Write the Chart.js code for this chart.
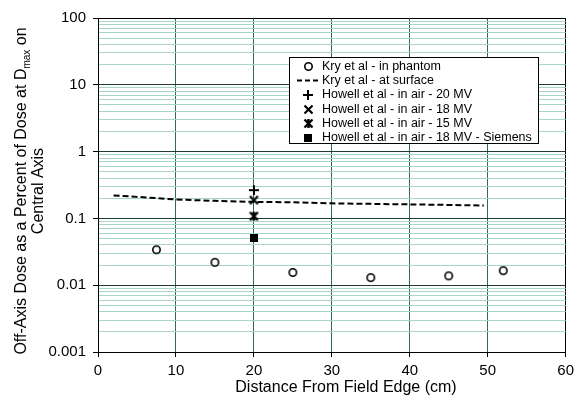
<!DOCTYPE html>
<html lang="en">
<head>
<meta charset="UTF-8">
<title>Off-Axis Dose vs Distance From Field Edge</title>
<script src="https://cdn.jsdelivr.net/npm/chart.js@4/dist/chart.umd.min.js"></script>
<style>
  html, body { margin: 0; padding: 0; background: #fff; }
</style>
</head>
<body>
<canvas id="doseChart" width="579" height="401"></canvas>
<script>
// Kry et al - in phantom
const phantomDist = [7.5, 15, 25, 35, 45, 52];
const phantomDose = [0.034, 0.022, 0.0155, 0.013, 0.0138, 0.0165];
// Kry et al - at surface
const surfaceDist = [2, 5, 10, 15, 20, 25, 30, 35, 40, 45, 49.5];
const surfaceDose = [0.221, 0.21, 0.192, 0.183, 0.177, 0.174, 0.168, 0.165, 0.162, 0.159, 0.156];
// Howell et al - in air (all at 20 cm)
const howellDist = [20];
const howell20MV = [0.265];
const howell18MV = [0.188];
const howell15MV = [0.108];
const howell18Siemens = [0.0514];

const xTicks = [0, 10, 20, 30, 40, 50, 60];
const yDecades = [0.001, 0.01, 0.1, 1, 10, 100];

const FONT = "'Liberation Sans', Arial, sans-serif";

const pts = (xs, ys) => ys.map((y, i) => ({ x: xs[i], y: y }));

// marker images, reused in the legend
function makeMarker(w, draw) {
    const c = document.createElement('canvas');
    c.width = w; c.height = w;
    const g = c.getContext('2d');
    g.strokeStyle = '#000'; g.fillStyle = '#000';
    draw(g, w);
    return c;
}
const mCircle = makeMarker(11, (g) => {
    g.lineWidth = 1.6;
    g.beginPath(); g.arc(5.5, 5.5, 3.7, 0, Math.PI * 2);
    g.fillStyle = '#fff'; g.fill(); g.stroke();
});
const mPlus = makeMarker(12, (g) => {
    g.lineWidth = 2;
    g.beginPath();
    g.moveTo(6, 1); g.lineTo(6, 11);
    g.moveTo(1, 6); g.lineTo(11, 6);
    g.stroke();
});
const mCross = makeMarker(11, (g) => {
    g.lineWidth = 2.2;
    g.beginPath();
    g.moveTo(1.5, 1.5); g.lineTo(9.5, 9.5);
    g.moveTo(9.5, 1.5); g.lineTo(1.5, 9.5);
    g.stroke();
});
const mStar = makeMarker(11, (g) => {
    g.lineWidth = 2.4;
    g.beginPath();
    g.moveTo(1.5, 1.5); g.lineTo(9.5, 9.5);
    g.moveTo(9.5, 1.5); g.lineTo(1.5, 9.5);
    g.moveTo(5.5, 1); g.lineTo(5.5, 10);
    g.stroke();
});
const mSquare = makeMarker(8, (g) => { g.fillRect(0, 0, 8, 8); });

const isDecade = (v) => Math.abs(Math.log10(v) - Math.round(Math.log10(v))) < 1e-6;

const yGridTicks = [];
for (let e = -3; e <= 1; e++) {
    for (let m = 1; m <= 9; m++) yGridTicks.push(Number((m * Math.pow(10, e)).toPrecision(6)));
}
yGridTicks.push(100);

const legendItems = [
    { label: 'Kry et al - in phantom', img: mCircle },
    { label: 'Kry et al - at surface', dash: true },
    { label: 'Howell et al - in air - 20 MV', img: mPlus },
    { label: 'Howell et al - in air - 18 MV', img: mCross },
    { label: 'Howell et al - in air - 15 MV', img: mStar },
    { label: 'Howell et al - in air - 18 MV - Siemens', img: mSquare }
];

const extras = {
    id: 'extras',
    afterDatasetsDraw(chart) {
        const ctx = chart.ctx;
        // legend box
        ctx.save();
        ctx.fillStyle = '#fff';
        ctx.strokeStyle = '#000';
        ctx.lineWidth = 1;
        ctx.fillRect(289.5, 57.5, 249, 86);
        ctx.strokeRect(289.5, 57.5, 249, 86);
        ctx.font = '12.5px ' + FONT;
        ctx.textBaseline = 'middle';
        const rowY = [66, 80.5, 94.5, 109, 123, 137.5];
        legendItems.forEach((it, i) => {
            const y = rowY[i];
            if (it.dash) {
                ctx.beginPath();
                ctx.setLineDash([5, 3]);
                ctx.lineWidth = 2;
                ctx.moveTo(297, y); ctx.lineTo(319, y);
                ctx.stroke();
                ctx.setLineDash([]);
            } else {
                ctx.drawImage(it.img, Math.round(308 - it.img.width / 2), Math.round(y - it.img.height / 2));
            }
            ctx.fillStyle = '#000';
            ctx.fillText(it.label, 322, y + 0.5);
        });
        ctx.restore();
    },
    afterDraw(chart) {
        const ctx = chart.ctx;
        ctx.save();
        ctx.fillStyle = '#000';
        // x axis title
        ctx.font = '16px ' + FONT;
        ctx.textAlign = 'center';
        ctx.textBaseline = 'middle';
        ctx.fillText('Distance From Field Edge (cm)', 346, 388);
        // y axis title, two rotated lines with a subscript
        const cy = 191;
        const p1 = 'Off-Axis Dose as a Percent of Dose at D';
        const sub = 'max';
        const p3 = ' on';
        ctx.font = '16px ' + FONT;
        const w1 = ctx.measureText(p1).width;
        const w3 = ctx.measureText(p3).width;
        ctx.font = '10px ' + FONT;
        const w2 = ctx.measureText(sub).width;
        const total = w1 + w2 + w3;
        ctx.translate(22, cy);
        ctx.rotate(-Math.PI / 2);
        ctx.textAlign = 'left';
        let x = -total / 2;
        ctx.font = '16px ' + FONT;
        ctx.fillText(p1, x, 0);
        x += w1;
        ctx.font = '10px ' + FONT;
        ctx.fillText(sub, x, 5);
        x += w2;
        ctx.font = '16px ' + FONT;
        ctx.fillText(p3, x, 0);
        ctx.textAlign = 'center';
        ctx.fillText('Central Axis', 0, 17);
        ctx.restore();
    }
};

new Chart(document.getElementById('doseChart').getContext('2d'), {
    type: 'scatter',
    data: {
        datasets: [
            {
                label: 'Kry et al - at surface',
                data: pts(surfaceDist, surfaceDose),
                showLine: true,
                borderColor: '#000',
                borderWidth: 2,
                borderDash: [6, 3],
                pointRadius: 0
            },
            { label: 'Kry et al - in phantom', data: pts(phantomDist, phantomDose), pointStyle: mCircle, pointRadius: 4 },
            { label: 'Howell et al - in air - 20 MV', data: pts(howellDist, howell20MV), pointStyle: mPlus, pointRadius: 4 },
            { label: 'Howell et al - in air - 18 MV', data: pts(howellDist, howell18MV), pointStyle: mCross, pointRadius: 4 },
            { label: 'Howell et al - in air - 15 MV', data: pts(howellDist, howell15MV), pointStyle: mStar, pointRadius: 4 },
            { label: 'Howell et al - in air - 18 MV - Siemens', data: pts(howellDist, howell18Siemens), pointStyle: mSquare, pointRadius: 4 }
        ]
    },
    options: {
        responsive: false,
        animation: false,
        layout: { padding: { top: 18, right: 11, left: 0, bottom: 0 } },
        plugins: {
            legend: { display: false },
            tooltip: { enabled: false }
        },
        scales: {
            x: {
                type: 'linear',
                min: 0,
                max: 60,
                afterBuildTicks: (s) => { s.ticks = xTicks.map(v => ({ value: v })); },
                afterFit: (s) => { s.height = 49; },
                grid: {
                    color: (c) => (c.tick && (c.tick.value === 0 || c.tick.value === 60)) ? '#000' : '#2f6b52',
                    lineWidth: 1,
                    tickLength: 5,
                    tickColor: '#000'
                },
                border: { color: '#000', width: 1 },
                ticks: {
                    color: '#000',
                    font: { family: FONT, size: 15 },
                    padding: 5,
                    maxRotation: 0,
                    autoSkip: false
                }
            },
            y: {
                type: 'logarithmic',
                min: 0.001,
                max: 100,
                afterBuildTicks: (s) => { s.ticks = yGridTicks.map(v => ({ value: v, major: isDecade(v) })); },
                afterFit: (s) => { s.width = 98; },
                grid: {
                    color: (c) => {
                        if (!c.tick) return '#a8d6c6';
                        if (c.tick.value === 100) return '#000';
                        return isDecade(c.tick.value) ? '#1f3d31' : '#a8d6c6';
                    },
                    lineWidth: 1,
                    tickLength: 5,
                    tickColor: (c) => (c.tick && isDecade(c.tick.value)) ? '#000' : 'rgba(0,0,0,0)'
                },
                border: { color: '#000', width: 1 },
                ticks: {
                    color: '#000',
                    font: { family: FONT, size: 15 },
                    padding: 7,
                    autoSkip: false,
                    callback: (v) => (yDecades.some(d => Math.abs(d - v) < d * 1e-6)) ? String(v) : ''
                }
            }
        }
    },
    plugins: [extras]
});
</script>
</body>
</html>
